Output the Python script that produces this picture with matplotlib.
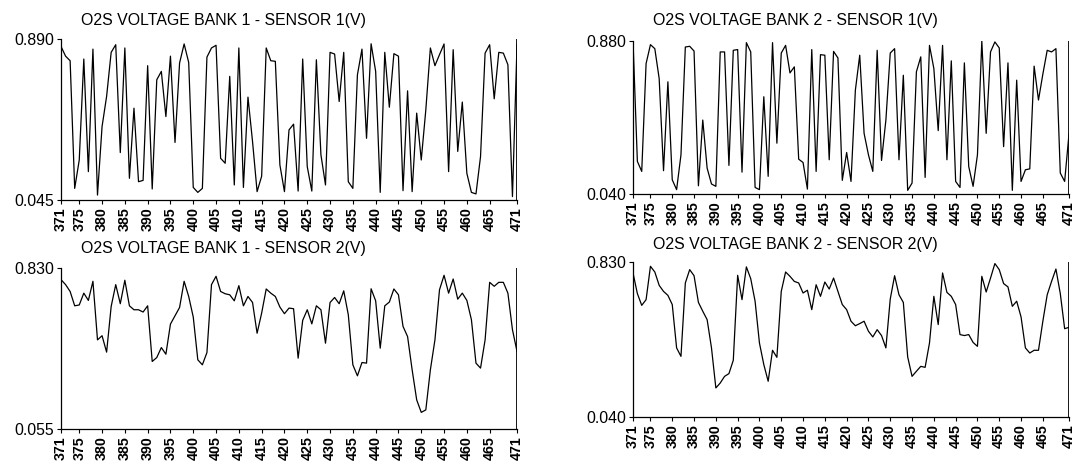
import numpy as np
import matplotlib
matplotlib.use("Agg")
import matplotlib.pyplot as plt

plt.rcParams["font.family"] = ["Liberation Sans", "DejaVu Sans"]

samples = np.arange(371, 472)
xtick_vals = [371] + list(range(375, 470, 5)) + [471]

b1s1 = [0.851, 0.800, 0.776, 0.106, 0.255, 0.785, 0.194, 0.837, 0.071, 0.430,
        0.589, 0.820, 0.860, 0.294, 0.843, 0.159, 0.527, 0.141, 0.148, 0.750,
        0.103, 0.676, 0.720, 0.483, 0.800, 0.347, 0.764, 0.864, 0.767, 0.111,
        0.085, 0.106, 0.795, 0.843, 0.857, 0.264, 0.238, 0.694, 0.124, 0.843,
        0.111, 0.585, 0.352, 0.089, 0.170, 0.843, 0.776, 0.773, 0.229, 0.089,
        0.413, 0.443, 0.092, 0.785, 0.220, 0.092, 0.781, 0.282, 0.124, 0.820,
        0.811, 0.562, 0.820, 0.141, 0.106, 0.702, 0.837, 0.369, 0.865, 0.720,
        0.085, 0.820, 0.532, 0.813, 0.800, 0.094, 0.618, 0.089, 0.501, 0.255,
        0.518, 0.843, 0.750, 0.808, 0.864, 0.194, 0.834, 0.300, 0.559, 0.185,
        0.085, 0.077, 0.273, 0.816, 0.860, 0.576, 0.820, 0.816, 0.755, 0.063,
        0.860]

b2s1 = [0.880, 0.219, 0.164, 0.756, 0.860, 0.838, 0.674, 0.168, 0.656, 0.118,
        0.064, 0.255, 0.847, 0.851, 0.825, 0.085, 0.446, 0.182, 0.095, 0.082,
        0.820, 0.820, 0.197, 0.829, 0.833, 0.160, 0.871, 0.820, 0.076, 0.064,
        0.574, 0.137, 0.871, 0.319, 0.814, 0.856, 0.705, 0.738, 0.231, 0.213,
        0.067, 0.833, 0.164, 0.805, 0.802, 0.228, 0.823, 0.787, 0.115, 0.268,
        0.109, 0.610, 0.802, 0.373, 0.255, 0.164, 0.829, 0.224, 0.446, 0.814,
        0.838, 0.228, 0.692, 0.060, 0.100, 0.711, 0.793, 0.131, 0.856, 0.729,
        0.388, 0.856, 0.228, 0.771, 0.109, 0.076, 0.760, 0.191, 0.082, 0.255,
        0.880, 0.373, 0.820, 0.875, 0.842, 0.300, 0.760, 0.060, 0.665, 0.109,
        0.173, 0.178, 0.742, 0.556, 0.698, 0.829, 0.820, 0.838, 0.155, 0.109,
        0.370]

b1s2 = [0.774, 0.750, 0.717, 0.648, 0.652, 0.709, 0.674, 0.766, 0.484, 0.504,
        0.425, 0.645, 0.750, 0.658, 0.771, 0.648, 0.629, 0.629, 0.618, 0.648,
        0.380, 0.399, 0.447, 0.415, 0.560, 0.600, 0.640, 0.766, 0.693, 0.594,
        0.388, 0.364, 0.423, 0.750, 0.790, 0.717, 0.706, 0.701, 0.672, 0.745,
        0.648, 0.693, 0.664, 0.516, 0.613, 0.729, 0.709, 0.693, 0.642, 0.610,
        0.637, 0.634, 0.396, 0.578, 0.629, 0.561, 0.648, 0.629, 0.468, 0.664,
        0.688, 0.658, 0.720, 0.605, 0.364, 0.311, 0.375, 0.372, 0.730, 0.672,
        0.444, 0.648, 0.666, 0.729, 0.701, 0.549, 0.500, 0.340, 0.195, 0.135,
        0.147, 0.340, 0.484, 0.725, 0.795, 0.709, 0.777, 0.680, 0.709, 0.674,
        0.581, 0.372, 0.348, 0.484, 0.761, 0.742, 0.761, 0.761, 0.709, 0.533,
        0.428]

b2s2 = [0.774, 0.669, 0.609, 0.638, 0.808, 0.779, 0.711, 0.680, 0.660, 0.613,
        0.392, 0.349, 0.723, 0.791, 0.760, 0.624, 0.579, 0.536, 0.392, 0.188,
        0.213, 0.247, 0.261, 0.329, 0.762, 0.638, 0.805, 0.745, 0.630, 0.417,
        0.307, 0.222, 0.380, 0.344, 0.680, 0.779, 0.757, 0.731, 0.723, 0.672,
        0.686, 0.587, 0.714, 0.655, 0.728, 0.692, 0.748, 0.680, 0.613, 0.587,
        0.528, 0.505, 0.516, 0.528, 0.477, 0.448, 0.485, 0.455, 0.392, 0.641,
        0.760, 0.663, 0.624, 0.346, 0.247, 0.273, 0.298, 0.293, 0.417, 0.655,
        0.511, 0.774, 0.675, 0.655, 0.613, 0.460, 0.455, 0.460, 0.420, 0.400,
        0.757, 0.677, 0.748, 0.822, 0.791, 0.720, 0.703, 0.604, 0.630, 0.550,
        0.392, 0.366, 0.380, 0.380, 0.528, 0.663, 0.731, 0.794, 0.669, 0.490,
        0.497]

panels = [
    ("O2S VOLTAGE BANK 1 - SENSOR 1(V)", b1s1, (0.045, 0.890), [0.0567, 0.5708, 0.4238, 0.3455], 13.5),
    ("O2S VOLTAGE BANK 2 - SENSOR 1(V)", b2s1, (0.040, 0.880), [0.5883, 0.5837, 0.4052, 0.3283], 14.5),
    ("O2S VOLTAGE BANK 1 - SENSOR 2(V)", b1s2, (0.055, 0.830), [0.0567, 0.0794, 0.4238, 0.3455], 14),
    ("O2S VOLTAGE BANK 2 - SENSOR 2(V)", b2s2, (0.040, 0.830), [0.5883, 0.1052, 0.4052, 0.3326], 12.5),
]

fig = plt.figure(figsize=(10.76, 4.66), dpi=100)
for title, vals, (lo, hi), rect, ty in panels:
    ax = fig.add_axes(rect)
    ax.plot(samples, vals, color="black", lw=0.9)
    ax.axvline(471, color="black", lw=2)
    ax.set_xlim(371, 471)
    ax.set_ylim(lo, hi)
    ax.set_yticks([lo, hi])
    ax.set_yticklabels([f"{lo:.3f}", f"{hi:.3f}"], fontsize=11.4)
    ax.set_xticks(xtick_vals)
    ax.set_xticklabels([str(v) for v in xtick_vals], rotation=90, fontsize=10.3,
                       fontweight="bold")
    ax.tick_params(axis="both", length=3, width=0.8, pad=2)
    for s in ("top", "right"):
        ax.spines[s].set_visible(False)
    ax.spines["left"].set_linewidth(0.9)
    ax.spines["bottom"].set_linewidth(0.9)
    ax.annotate(title, (0, 1), xycoords="axes fraction", xytext=(14.4, ty),
                textcoords="offset points", fontsize=11.4, ha="left", va="center")

fig.savefig("out.png", dpi=100)
